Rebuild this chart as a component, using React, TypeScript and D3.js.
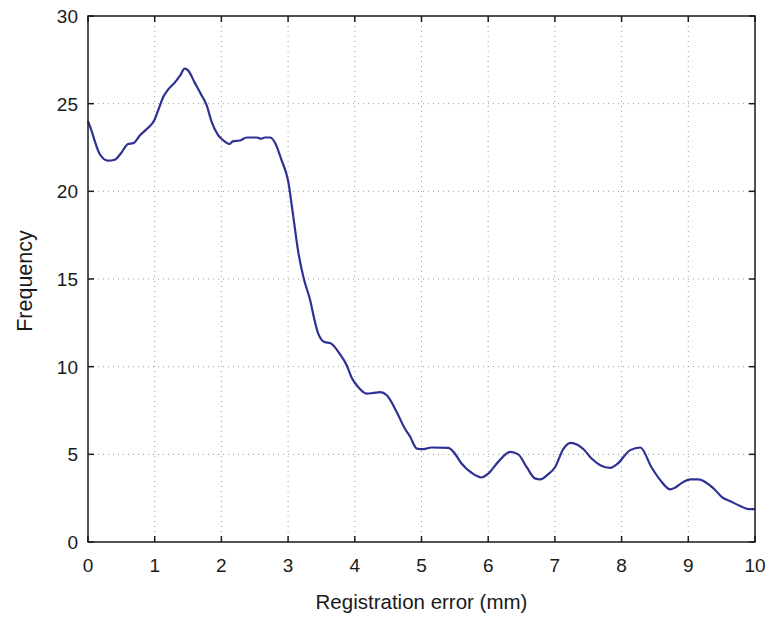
import React from "react";
import * as d3 from "d3";

// registration error (mm) vs frequency
const errorMm = [
  0, 0.03, 0.18, 0.3, 0.4, 0.5, 0.6, 0.68, 0.78, 0.88, 1.0, 1.05, 1.13, 1.2, 1.3, 1.38, 1.45, 1.5,
  1.6, 1.7, 1.78, 1.85, 1.95, 2.03, 2.12, 2.17, 2.28, 2.38, 2.53, 2.6, 2.65, 2.73, 2.8, 2.9, 3.0,
  3.08, 3.15, 3.23, 3.33, 3.4, 3.45, 3.55, 3.63, 3.78, 3.88, 3.95, 4.05, 4.18, 4.28, 4.38, 4.48,
  4.63, 4.75, 4.83, 4.93, 5.03, 5.15, 5.4, 5.48, 5.6, 5.75, 5.9, 6.0, 6.15, 6.33, 6.45, 6.58,
  6.7, 6.78, 6.9, 7.0, 7.13, 7.24, 7.43, 7.55, 7.68, 7.83, 7.93, 8.13, 8.28, 8.45, 8.58, 8.73,
  8.8, 8.93, 9.03, 9.15, 9.38, 9.5, 9.63, 9.78, 9.9, 10.0,
];
const frequency = [
  24.0, 23.7, 22.1, 21.75, 21.8, 22.2, 22.7, 22.75, 23.2, 23.55, 24.1, 24.6, 25.4, 25.8, 26.2,
  26.6, 27.0, 26.9, 26.2, 25.5, 24.9, 24.0, 23.2, 22.9, 22.7, 22.85, 22.9, 23.07, 23.07, 23.0,
  23.07, 23.07, 22.8, 21.8, 20.6, 18.5, 16.6, 15.1, 13.8, 12.6, 11.9, 11.4, 11.35, 10.7, 10.07,
  9.4, 8.84, 8.46, 8.5, 8.55, 8.37, 7.4, 6.47, 6.0, 5.33, 5.3, 5.39, 5.37, 5.14, 4.48, 3.95,
  3.68, 3.9, 4.57, 5.14, 5.0, 4.25, 3.63, 3.57, 3.87, 4.25, 5.33, 5.65, 5.29, 4.76, 4.38, 4.23,
  4.44, 5.24, 5.39, 4.25, 3.53, 3.0, 3.1, 3.43, 3.57, 3.57, 3.05, 2.58, 2.33, 2.05, 1.88, 1.88,
];
const xTicks = [0, 1, 2, 3, 4, 5, 6, 7, 8, 9, 10];
const yTicks = [0, 5, 10, 15, 20, 25, 30];

const width = 767;
const height = 617;
const margin = { top: 16, right: 12, bottom: 75, left: 88 };
const font = "Liberation Sans, Arial, Helvetica, sans-serif";

export default function App() {
  const x = d3.scaleLinear().domain([0, 10]).range([margin.left, width - margin.right]);
  const y = d3.scaleLinear().domain([0, 30]).range([height - margin.bottom, margin.top]);

  const points: [number, number][] = errorMm.map((e, i) => [e, frequency[i]]);
  const line = d3
    .line<[number, number]>()
    .x((d) => x(d[0]))
    .y((d) => y(d[1]))
    .curve(d3.curveMonotoneX);

  const x0 = x(0);
  const x1 = x(10);
  const y0 = y(0);
  const y1 = y(30);
  const tick = 6;

  return (
    <svg
      width={width}
      height={height}
      style={{ position: "absolute", left: 0, top: 0, background: "#fff" }}
      fontFamily={font}
    >
      {/* grid */}
      <g stroke="#9a9a9a" strokeWidth={1} strokeDasharray="1,4">
        {xTicks.slice(1, -1).map((t) => (
          <line key={"gx" + t} x1={x(t)} x2={x(t)} y1={y0} y2={y1} />
        ))}
        {yTicks.slice(1, -1).map((t) => (
          <line key={"gy" + t} x1={x0} x2={x1} y1={y(t)} y2={y(t)} />
        ))}
      </g>

      {/* data */}
      <path d={line(points) ?? ""} fill="none" stroke="#2e3192" strokeWidth={2.2} strokeLinejoin="round" />

      {/* box and ticks */}
      <g stroke="#1a1a1a" strokeWidth={1.5}>
        <rect x={x0} y={y1} width={x1 - x0} height={y0 - y1} fill="none" />
        {xTicks.map((t) => (
          <g key={"tx" + t}>
            <line x1={x(t)} x2={x(t)} y1={y0} y2={y0 - tick} />
            <line x1={x(t)} x2={x(t)} y1={y1} y2={y1 + tick} />
          </g>
        ))}
        {yTicks.map((t) => (
          <g key={"ty" + t}>
            <line x1={x0} x2={x0 + tick} y1={y(t)} y2={y(t)} />
            <line x1={x1} x2={x1 - tick} y1={y(t)} y2={y(t)} />
          </g>
        ))}
      </g>

      {/* tick labels */}
      <g fontSize={19} fill="#1a1a1a">
        {xTicks.map((t) => (
          <text key={"lx" + t} x={x(t)} y={y0 + 30} textAnchor="middle">
            {t}
          </text>
        ))}
        {yTicks.map((t) => (
          <text key={"ly" + t} x={x0 - 10} y={y(t) + 7} textAnchor="end">
            {t}
          </text>
        ))}
      </g>

      {/* axis titles */}
      <text x={(x0 + x1) / 2} y={609} textAnchor="middle" fontSize={20.5} fill="#1a1a1a">
        Registration error (mm)
      </text>
      <text
        transform={`translate(32, ${(y0 + y1) / 2 + 2}) rotate(-90)`}
        textAnchor="middle"
        fontSize={21.5}
        fill="#1a1a1a"
      >
        Frequency
      </text>
    </svg>
  );
}
